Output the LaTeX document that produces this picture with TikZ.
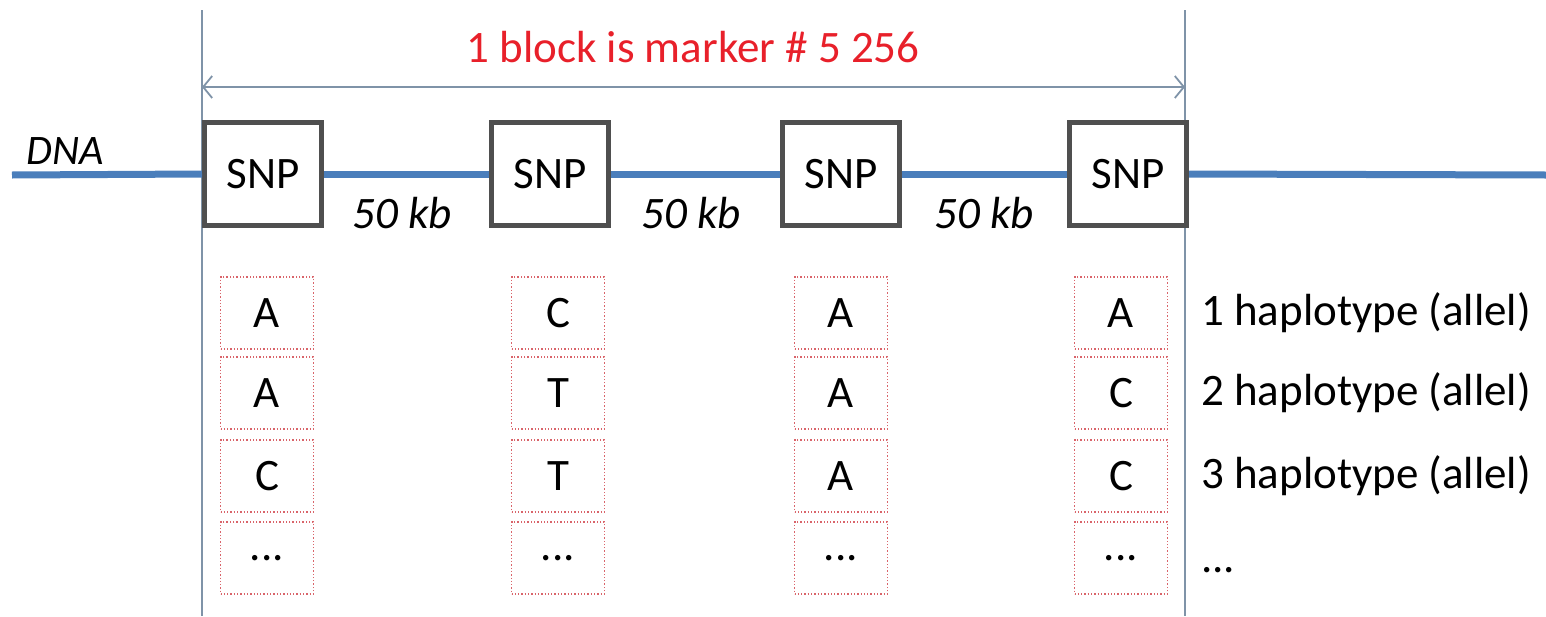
\documentclass[tikz,border=0pt]{standalone}
\usepackage{fontspec}
\setmainfont{Carlito}
\usetikzlibrary{arrows.meta}
\definecolor{dnablue}{HTML}{4A7EBB}
\definecolor{snpgray}{HTML}{4F4F4F}
\definecolor{guidegray}{HTML}{7F93A8}
\definecolor{allelered}{HTML}{D9646A}
\definecolor{titlered}{HTML}{E8202A}
\tikzset{
  snpbox/.style={draw=snpgray, line width=5pt, fill=white, minimum width=117pt, minimum height=103pt, inner sep=0pt, font=\fontsize{45}{50}\selectfont},
  allelebox/.style={draw=allelered, dotted, line width=1.3pt, fill=white, minimum width=93pt, minimum height=72pt, inner sep=0pt, font=\fontsize{45}{50}\selectfont},
  dnaline/.style={draw=dnablue, line width=7pt},
  guideline/.style={draw=guidegray, line width=1.8pt},
  dimarrow/.style={draw=guidegray, line width=1.8pt, {Straight Barb[length=9pt,width=22pt]}-{Straight Barb[length=9pt,width=22pt]}},
  lbl/.style={inner sep=0pt, font=\fontsize{45}{50}\selectfont},
  itl/.style={inner sep=0pt, font=\fontsize{45}{50}\selectfont\itshape},
}
\begin{document}
\begin{tikzpicture}[x=1pt,y=-1pt]
\useasboundingbox (0,0) rectangle (1546,616);
% guide lines
\coordinate (vTL) at (202,10);
\coordinate (vBL) at (202,616);
\coordinate (vTR) at (1185,10);
\coordinate (vBR) at (1185,616);
\draw[guideline] (vTL) -- (vBL);
\draw[guideline] (vTR) -- (vBR);
\coordinate (arrL) at (202,87);
\coordinate (arrR) at (1185,87);
\draw[dimarrow] (arrL) -- (arrR);
\node[lbl, text=titlered] (title) at (693,47) {1 block is marker \# 5 256};
% DNA
\coordinate (dnaL) at (12,175);
\coordinate (dnaR) at (1546,175);
\node[snpbox] (s1) at (263,174) {SNP};
\node[snpbox] (s2) at (550,174) {SNP};
\node[snpbox] (s3) at (841,174) {SNP};
\node[snpbox] (s4) at (1128,174) {SNP};
\draw[dnaline] (dnaL) -- (s1.west);
\draw[dnaline] (s1.east) -- (s2.west);
\draw[dnaline] (s2.east) -- (s3.west);
\draw[dnaline] (s3.east) -- (s4.west);
\draw[dnaline] (s4.east) -- (dnaR);
\node[itl, font=\fontsize{42}{46}\selectfont\itshape, anchor=base west] (dna) at (26,164) {DNA};
\node[itl] (k1) at (402,213) {50 kb};
\node[itl] (k2) at (691,213) {50 kb};
\node[itl] (k3) at (984,213) {50 kb};
% alleles
\foreach \x/\c/\la/\lb/\lc in {267/1/A/A/C, 558/2/C/T/T, 841/3/A/A/A, 1121/4/A/C/C}{
  \node[allelebox] (a\c1) at (\x,313) {\la};
  \node[allelebox] (a\c2) at (\x,393) {\lb};
  \node[allelebox] (a\c3) at (\x,476) {\lc};
  \node[allelebox] (a\c4) at (\x,558) {...};
}
\node[lbl, anchor=west] (h1) at (1201,313) {1 haplotype (allel)};
\node[lbl, anchor=west] (h2) at (1201,393) {2 haplotype (allel)};
\node[lbl, anchor=west] (h3) at (1201,476) {3 haplotype (allel)};
\node[lbl, anchor=west] (h4) at (1201,570) {...};
\end{tikzpicture}
\end{document}
